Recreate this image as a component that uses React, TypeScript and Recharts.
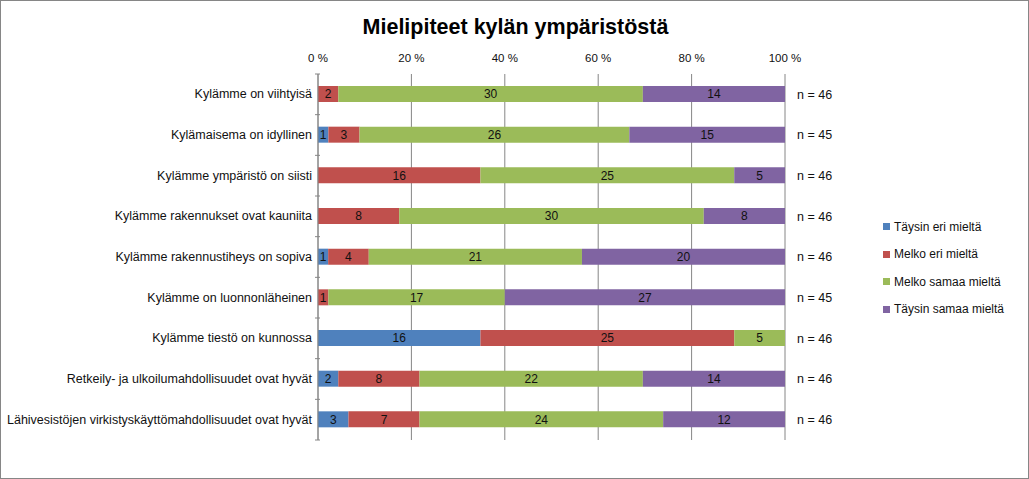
import { BarChart, Bar, XAxis, YAxis, CartesianGrid, LabelList } from "recharts";

const categories = [
  "Kylämme on viihtyisä",
  "Kylämaisema on idyllinen",
  "Kylämme ympäristö on siisti",
  "Kylämme rakennukset ovat kauniita",
  "Kylämme rakennustiheys on sopiva",
  "Kylämme on luonnonläheinen",
  "Kylämme tiestö on kunnossa",
  "Retkeily- ja ulkoilumahdollisuudet ovat hyvät",
  "Lähivesistöjen virkistyskäyttömahdollisuudet ovat hyvät",
];

const taysinEri = [0, 1, 0, 0, 1, 0, 16, 2, 3];
const melkoEri = [2, 3, 16, 8, 4, 1, 25, 8, 7];
const melkoSamaa = [30, 26, 25, 30, 21, 17, 5, 22, 24];
const taysinSamaa = [14, 15, 5, 8, 20, 27, 0, 14, 12];
const respondents = [46, 45, 46, 46, 46, 45, 46, 46, 46];

const percentTicks = [0, 0.2, 0.4, 0.6, 0.8, 1];

const series = [
  { key: "taysinEri", name: "Täysin eri mieltä", color: "#4F81BD" },
  { key: "melkoEri", name: "Melko eri mieltä", color: "#C0504D" },
  { key: "melkoSamaa", name: "Melko samaa mieltä", color: "#9BBB59" },
  { key: "taysinSamaa", name: "Täysin samaa mieltä", color: "#8064A2" },
];

const data = categories.map((name, i) => ({
  name,
  taysinEri: taysinEri[i],
  melkoEri: melkoEri[i],
  melkoSamaa: melkoSamaa[i],
  taysinSamaa: taysinSamaa[i],
}));

const W = 1029;
const H = 479;
const FONT = "'Liberation Sans', Arial, sans-serif";
const PLOT_TOP = 74;
const PLOT_BOTTOM = 440;
const step = (PLOT_BOTTOM - PLOT_TOP) / categories.length;

const CategoryTick = (props: any) => {
  const { x, y, payload, index } = props;
  return (
    <g>
      <line x1={x + 5} x2={x + 10} y1={y - step / 2} y2={y - step / 2} stroke="#868686" />
      {index === categories.length - 1 && (
        <line x1={x + 5} x2={x + 10} y1={y + step / 2} y2={y + step / 2} stroke="#868686" />
      )}
      <text x={x + 2} y={y} dy={4} textAnchor="end" fontSize={12.5} fill="#111" fontFamily={FONT}>
        {payload.value}
      </text>
    </g>
  );
};

const hideZero = (v: any) => (v ? v : "");

export default function App() {
  return (
    <div
      style={{
        position: "fixed",
        left: 0,
        top: 0,
        width: W,
        height: H,
        background: "#fff",
        border: "1px solid #868686",
        boxSizing: "border-box",
        fontFamily: FONT,
      }}
    >
      <div
        style={{
          position: "absolute",
          left: 0,
          top: 14,
          width: W,
          textAlign: "center",
          fontSize: 21.5,
          fontWeight: "bold",
          color: "#000",
        }}
      >
        Mielipiteet kylän ympäristöstä
      </div>
      <div style={{ position: "absolute", left: -1, top: -1 }}>
        <BarChart
          width={W}
          height={H}
          data={data}
          layout="vertical"
          stackOffset="expand"
          barSize={16}
          margin={{ top: PLOT_TOP - 30, left: 8, right: 184, bottom: H - PLOT_BOTTOM }}
        >
          <CartesianGrid horizontal={false} stroke="#868686" />
          <XAxis
            type="number"
            orientation="top"
            domain={[0, 1]}
            ticks={percentTicks}
            tickFormatter={(v: number) => `${Math.round(v * 100)} %`}
            axisLine={false}
            tickLine={false}
            height={30}
            tickMargin={6}
            tick={{ fontSize: 11.5, fill: "#111", fontFamily: FONT }}
          />
          <YAxis
            yAxisId="cat"
            type="category"
            dataKey="name"
            width={310}
            axisLine={{ stroke: "#868686" }}
            tickLine={false}
            tick={<CategoryTick />}
            interval={0}
          />
          <YAxis
            yAxisId="n"
            type="category"
            dataKey="name"
            orientation="right"
            width={60}
            axisLine={false}
            tickLine={false}
            interval={0}
            tickFormatter={(_v: any, i: number) => `n = ${respondents[i]}`}
            tick={{ fontSize: 12.5, fill: "#111", fontFamily: FONT, textAnchor: "start", dx: 4 }}
          />
          {series.map((s) => (
            <Bar
              key={s.key}
              yAxisId="cat"
              dataKey={s.key}
              name={s.name}
              stackId="a"
              fill={s.color}
              isAnimationActive={false}
            >
              <LabelList
                dataKey={s.key}
                position="center"
                formatter={hideZero}
                style={{ fontSize: 12, fill: "#111", fontFamily: FONT }}
              />
            </Bar>
          ))}
        </BarChart>
      </div>
      <div
        style={{
          position: "absolute",
          left: 882,
          top: 212,
          fontSize: 12,
          color: "#111",
        }}
      >
        {series.map((s) => (
          <div key={s.key} style={{ display: "flex", alignItems: "center", height: 27.5 }}>
            <span style={{ width: 7, height: 7, background: s.color, marginRight: 4, display: "inline-block" }} />
            <span>{s.name}</span>
          </div>
        ))}
      </div>
    </div>
  );
}
